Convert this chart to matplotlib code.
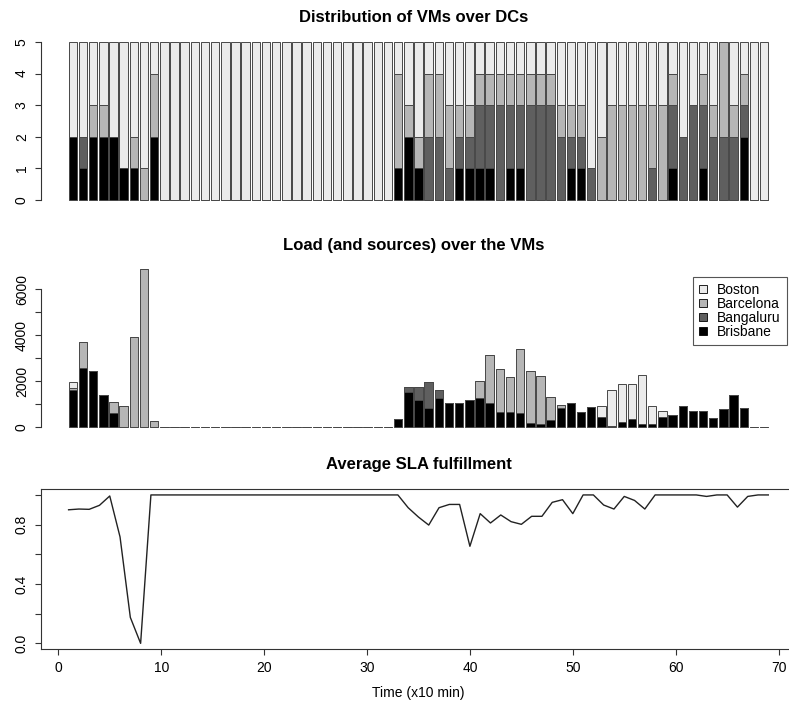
"""Data-centre placement run: VM distribution, load sources and SLA per time step."""
import matplotlib

matplotlib.use("Agg")
import matplotlib.pyplot as plt
import numpy as np
from matplotlib.patches import Patch

plt.rcParams["font.family"] = ["Liberation Sans", "DejaVu Sans"]

# stacking order, bottom to top
DCS = ["Brisbane", "Bangaluru", "Barcelona", "Boston"]
DC_COLORS = ["#000000", "#5f5f5f", "#b6b6b6", "#ebebeb"]

time_steps = list(range(1, 70))

# number of VMs hosted in each DC (5 VMs in total)
vms_brisbane = [2, 1, 2, 2, 2, 1, 1, 0, 2, 0, 0, 0, 0, 0, 0, 0, 0, 0, 0, 0, 0, 0, 0,
                0, 0, 0, 0, 0, 0, 0, 0, 0, 1, 2, 1, 0, 0, 0, 1, 1, 1, 1, 0, 1, 1, 0,
                0, 0, 0, 1, 1, 0, 0, 0, 0, 0, 0, 0, 0, 1, 0, 0, 1, 0, 0, 0, 2, 0, 0]
vms_bangaluru = [0, 1, 0, 0, 0, 0, 0, 0, 0, 0, 0, 0, 0, 0, 0, 0, 0, 0, 0, 0, 0, 0, 0,
                 0, 0, 0, 0, 0, 0, 0, 0, 0, 0, 0, 0, 2, 2, 1, 1, 1, 2, 2, 3, 2, 2, 3,
                 3, 3, 2, 1, 1, 1, 0, 0, 0, 0, 0, 1, 0, 2, 2, 3, 2, 2, 2, 2, 1, 0, 0]
vms_barcelona = [0, 0, 1, 1, 0, 0, 1, 1, 2, 0, 0, 0, 0, 0, 0, 0, 0, 0, 0, 0, 0, 0, 0,
                 0, 0, 0, 0, 0, 0, 0, 0, 0, 3, 1, 1, 2, 2, 2, 1, 1, 1, 1, 1, 1, 1, 1,
                 1, 1, 1, 1, 1, 0, 2, 3, 3, 3, 3, 2, 3, 1, 0, 0, 1, 1, 3, 1, 1, 0, 0]
vms_boston = [3, 3, 2, 2, 3, 4, 3, 4, 1, 5, 5, 5, 5, 5, 5, 5, 5, 5, 5, 5, 5, 5, 5,
              5, 5, 5, 5, 5, 5, 5, 5, 5, 1, 2, 3, 1, 1, 2, 2, 2, 1, 1, 1, 1, 1, 1,
              1, 1, 2, 2, 2, 4, 3, 2, 2, 2, 2, 2, 2, 1, 3, 2, 1, 2, 0, 2, 1, 5, 5]

# load received by the VMs, split by the DC the requests come from
load_brisbane = [1600, 2550, 2450, 1390, 620, 0, 0, 0, 0, 0, 0, 0, 0, 0, 0, 0, 0, 0,
                 0, 0, 0, 0, 0, 0, 0, 0, 0, 0, 0, 0, 0, 0, 350, 1540, 1170, 810, 1250,
                 1030, 1030, 1170, 1250, 1060, 670, 670, 590, 160, 130, 300, 810, 1030,
                 640, 880, 450, 60, 200, 350, 120, 150, 450, 540, 910, 680, 680, 390,
                 780, 1390, 810, 0, 0]
load_bangaluru = [0, 0, 0, 0, 0, 0, 0, 0, 0, 0, 0, 0, 0, 0, 0, 0, 0, 0, 0, 0, 0, 0,
                  0, 0, 0, 0, 0, 0, 0, 0, 0, 0, 0, 220, 580, 1130, 350, 0, 0, 0, 0, 0,
                  0, 0, 0, 0, 0, 0, 0, 0, 0, 0, 0, 0, 0, 0, 0, 0, 0, 0, 0, 0, 0, 0, 0,
                  0, 0, 0, 0]
load_barcelona = [110, 1130, 0, 0, 480, 930, 3900, 6870, 280, 0, 0, 0, 0, 0, 0, 0, 0,
                  0, 0, 0, 0, 0, 0, 0, 0, 0, 0, 0, 0, 0, 0, 0, 0, 0, 0, 0, 0, 0, 0, 0,
                  740, 2090, 1850, 1510, 2800, 2280, 2090, 1020, 150, 0, 0, 0, 0, 0, 0,
                  0, 0, 0, 0, 0, 0, 0, 0, 0, 0, 0, 0, 0, 0]
load_boston = [230, 0, 0, 0, 0, 0, 0, 0, 0, 0, 0, 0, 0, 0, 0, 0, 0, 0, 0, 0, 0, 0, 0,
               0, 0, 0, 0, 0, 0, 0, 0, 0, 0, 0, 0, 0, 0, 0, 0, 0, 0, 0, 0, 0, 0, 0, 0,
               0, 0, 0, 0, 0, 460, 1530, 1650, 1500, 2160, 760, 260, 0, 0, 0, 0, 0, 0,
               0, 0, 0, 0]

sla = [0.90, 0.905, 0.903, 0.93, 0.993, 0.717, 0.175, 0.0, 1.0, 1.0, 1.0, 1.0, 1.0,
       1.0, 1.0, 1.0, 1.0, 1.0, 1.0, 1.0, 1.0, 1.0, 1.0, 1.0, 1.0, 1.0, 1.0, 1.0, 1.0,
       1.0, 1.0, 1.0, 1.0, 0.914, 0.851, 0.797, 0.914, 0.936, 0.936, 0.654, 0.874,
       0.811, 0.865, 0.82, 0.802, 0.856, 0.856, 0.95, 0.968, 0.874, 1.0, 1.0, 0.932,
       0.905, 0.99, 0.963, 0.905, 1.0, 1.0, 1.0, 1.0, 1.0, 0.99, 1.0, 1.0, 0.918, 0.99,
       1.0, 1.0]

FIG_W, FIG_H = 789, 701
AX_COLOR = "#333333"


def add_axes_px(fig, left, top, right, bottom):
    return fig.add_axes([left / FIG_W, 1 - bottom / FIG_H,
                         (right - left) / FIG_W, (bottom - top) / FIG_H])


def style_y(ax, ticks, labels, lo, hi):
    for side in ("top", "right", "bottom"):
        ax.spines[side].set_visible(False)
    ax.spines["left"].set_bounds(lo, hi)
    ax.spines["left"].set_color(AX_COLOR)
    ax.spines["left"].set_linewidth(0.8)
    ax.set_yticks(ticks)
    ax.set_yticklabels(labels, rotation=90, va="center")
    ax.tick_params(axis="y", length=4.5, width=0.8, color=AX_COLOR, labelsize=10, pad=4)
    ax.set_xticks([])


def stacked(ax, x, layers, width):
    bottom = np.zeros(len(x))
    for values, color in zip(layers, DC_COLORS):
        ax.bar(x, values, width=width, bottom=bottom, color=color,
               edgecolor="#474747", linewidth=0.7)
        bottom += np.asarray(values, dtype=float)
    return bottom


def main():
    fig = plt.figure(figsize=(FIG_W / 100, FIG_H / 100), dpi=100)
    x = np.asarray(time_steps)
    bar_w = 1 / 1.2

    # VMs per DC
    ax1 = add_axes_px(fig, 40.6, 35.7, 796.3, 206.3)
    stacked(ax1, x, [vms_brisbane, vms_bangaluru, vms_barcelona, vms_boston], bar_w)
    ax1.set_xlim(-2.17, 72.17)
    ax1.set_ylim(-0.2, 5.2)
    style_y(ax1, range(6), [str(v) for v in range(6)], 0, 5)
    fig.text(414 / FIG_W, 1 - 17 / FIG_H, "Distribution of VMs over DCs",
             ha="center", va="center", fontsize=12, fontweight="bold")

    # load and its sources
    ax2 = add_axes_px(fig, 40.6, 262.7, 796.3, 433.3)
    totals = stacked(ax2, x, [load_brisbane, load_bangaluru, load_barcelona, load_boston], bar_w)
    top = totals.max()
    ax2.set_xlim(-2.17, 72.17)
    ax2.set_ylim(-0.04 * top, 1.04 * top)
    yt = np.arange(0, 7000, 1000)
    style_y(ax2, yt, [str(v) if v % 2000 == 0 else "" for v in yt], 0, 6000)
    fig.text(414 / FIG_W, 1 - 246 / FIG_H, "Load (and sources) over the VMs",
             ha="center", va="center", fontsize=12, fontweight="bold")
    handles = [Patch(facecolor=c, edgecolor="black", linewidth=0.6)
               for c in DC_COLORS[::-1]]
    leg = ax2.legend(handles, DCS[::-1], loc="upper right",
                     bbox_to_anchor=(0.9873, 0.918), fontsize=10, fancybox=False,
                     framealpha=1, edgecolor="#555555", handlelength=0.6,
                     handleheight=0.6, handletextpad=0.7, labelspacing=0.0,
                     borderpad=0.45, borderaxespad=0)
    leg.get_frame().set_linewidth(0.8)

    # SLA fulfillment
    ax3 = add_axes_px(fig, 40.6, 489, 796.3, 649.3)
    ax3.plot(x, sla, color="#222222", linewidth=1.0)
    ax3.set_xlim(-1.72, 71.72)
    ax3.set_ylim(-0.04, 1.04)
    for sp in ax3.spines.values():
        sp.set_color(AX_COLOR)
        sp.set_linewidth(0.8)
    yt = np.arange(0, 1.01, 0.2)
    ax3.set_yticks(yt)
    ax3.set_yticklabels(["0.0", "", "0.4", "", "0.8", ""], rotation=90, va="center")
    ax3.set_xticks(range(0, 71, 10))
    ax3.tick_params(length=4.5, width=0.8, color=AX_COLOR, labelsize=10, pad=4)
    ax3.set_xlabel("Time (x10 min)", fontsize=10, labelpad=8)
    fig.text(418.5 / FIG_W, 1 - 465 / FIG_H, "Average SLA fulfillment",
             ha="center", va="center", fontsize=12, fontweight="bold")

    fig.savefig("out.png", dpi=100)


if __name__ == "__main__":
    main()
